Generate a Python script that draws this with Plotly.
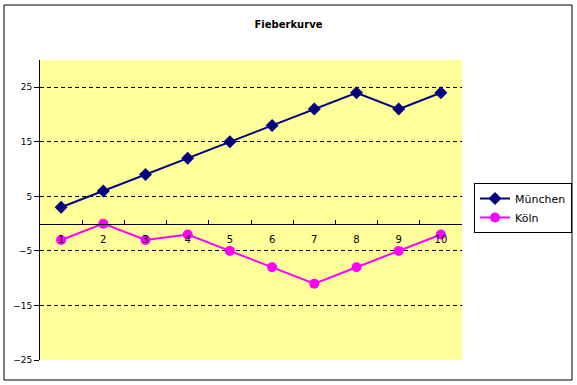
import plotly.graph_objects as go

categories = [1, 2, 3, 4, 5, 6, 7, 8, 9, 10]
muenchen = [3, 6, 9, 12, 15, 18, 21, 24, 21, 24]
koeln = [-3, 0, -3, -2, -5, -8, -11, -8, -5, -2]
y_ticks = [-25, -15, -5, 5, 15, 25]
y_min, y_max = -25, 30

FONT = "DejaVu Sans"

fig = go.Figure()
fig.add_trace(go.Scatter(
    x=categories, y=muenchen, name="München", mode="lines+markers",
    line=dict(color="#000080", width=2),
    marker=dict(symbol="diamond", size=10, color="#000080"),
))
fig.add_trace(go.Scatter(
    x=categories, y=koeln, name="Köln", mode="lines+markers",
    line=dict(color="#FF00FF", width=2),
    marker=dict(symbol="circle", size=10, color="#FF00FF"),
))
# invisible trace to activate second x-axis for boundary tick marks
fig.add_trace(go.Scatter(x=[categories[0]], y=[0], xaxis="x2", mode="markers",
                         marker=dict(opacity=0), showlegend=False, hoverinfo="skip"))

L, R, T, B = 40, 115, 60, 25
pw, ph = 577 - L - R, 385 - T - B
zero_pos = (0 - y_min) / (y_max - y_min)

fig.update_layout(
    width=577, height=385,
    margin=dict(l=L, r=R, t=T, b=B, autoexpand=False),
    paper_bgcolor="white",
    plot_bgcolor="#FFFF99",
    font=dict(family=FONT, size=9, color="black"),
    title=dict(text="<b>Fieberkurve</b>", x=0.5, xanchor="center", y=1 - 24 / 385,
               yanchor="middle", font=dict(family=FONT, size=10, color="black")),
    xaxis=dict(
        range=[0.5, 10.5], tickmode="array", tickvals=categories,
        ticktext=[str(c) for c in categories],
        showgrid=False, zeroline=False, showline=True, linecolor="black", linewidth=1,
        ticks="outside", ticklen=6, tickcolor="rgba(0,0,0,0)",
        anchor="free", position=zero_pos, automargin=False,
        tickfont=dict(family=FONT, size=10),
    ),
    xaxis2=dict(
        range=[0.5, 10.5], overlaying="x", anchor="free", position=zero_pos,
        tickmode="array", tickvals=[c + 0.5 for c in categories[:-1]],
        ticks="inside", ticklen=4, tickcolor="black", showticklabels=False,
        showgrid=False, zeroline=False, showline=False, automargin=False,
    ),
    yaxis=dict(
        range=[y_min, y_max], tickmode="array", tickvals=y_ticks,
        showgrid=True, gridcolor="black", gridwidth=1, griddash="4px,3px",
        zeroline=False, showline=True, linecolor="black", linewidth=1,
        ticks="outside", ticklen=5, tickcolor="black", automargin=False,
        tickfont=dict(family=FONT, size=9),
    ),
    legend=dict(
        x=(474 - L) / pw, y=(385 - B - 183) / ph, xanchor="left", yanchor="top",
        bgcolor="white", bordercolor="black", borderwidth=1,
        font=dict(family=FONT, size=11), itemwidth=30, tracegroupgap=2,
    ),
    showlegend=True,
)

fig.add_shape(type="rect", xref="paper", yref="paper",
              x0=(4 - L) / pw, x1=(572 - L) / pw,
              y0=(385 - B - 380) / ph, y1=(385 - B - 5) / ph,
              line=dict(color="black", width=1), fillcolor="rgba(0,0,0,0)", layer="above")

fig.write_html("out.html", config={"displayModeBar": False},
               post_script="document.body.style.margin='0';")
